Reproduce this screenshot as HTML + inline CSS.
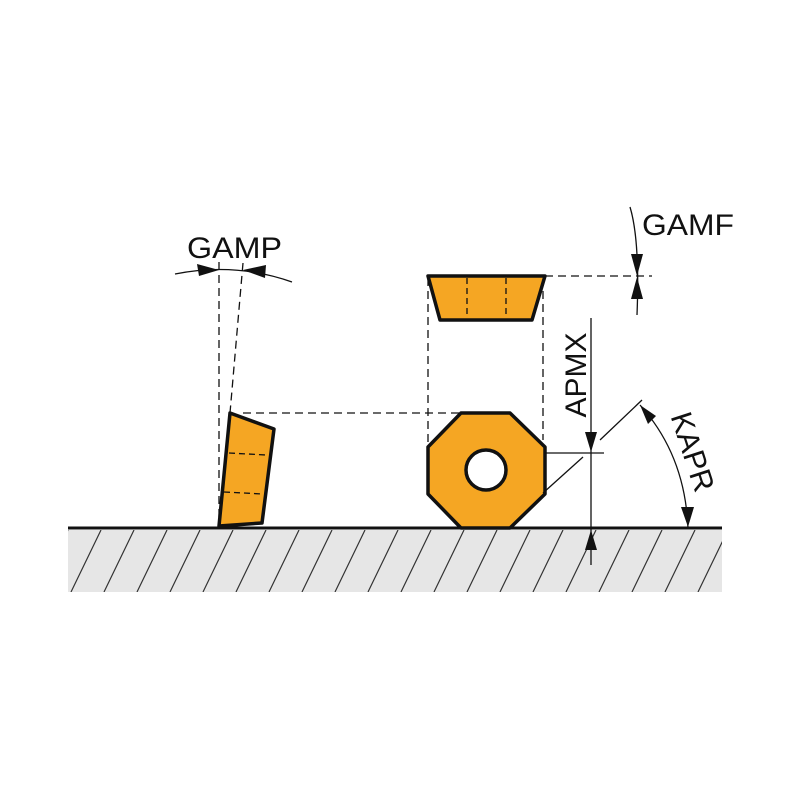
<!DOCTYPE html><html><head><style>body{margin:0;background:#fff}</style></head><body>
<svg width="800" height="800" xmlns="http://www.w3.org/2000/svg">
<defs>
<pattern id="h" patternUnits="userSpaceOnUse" width="33" height="62" x="68" y="530"><path d="M33 0 L3 62 M66 0 L36 62 M0 0 L-30 62" stroke="#333" stroke-width="1.2"/></pattern>
</defs>
<rect x="68" y="530" width="654" height="62" fill="#e6e6e6"/>
<rect x="68" y="530" width="654" height="62" fill="url(#h)"/>
<line x1="68" y1="528" x2="722" y2="528" stroke="#111" stroke-width="3"/>
<g fill="none" stroke="#111" stroke-width="1.3" stroke-dasharray="8,5">
<line x1="219" y1="262" x2="219" y2="524"/>
<line x1="243" y1="263" x2="230" y2="413"/>
<line x1="243" y1="413" x2="461" y2="413"/>
<line x1="428" y1="278" x2="428" y2="447"/>
<line x1="543" y1="278" x2="543" y2="440"/>
<line x1="545" y1="276" x2="652" y2="276"/>
</g>
<polygon points="230,413 274,429 262,523 219,526" fill="#f5a623" stroke="#111" stroke-width="3.5" stroke-linejoin="round"/>
<g stroke="#111" stroke-width="1.3" stroke-dasharray="6,4"><line x1="229" y1="453" x2="266" y2="455"/><line x1="224" y1="492" x2="263" y2="494"/></g>
<polygon points="428,276 545,276 532,320 440,320" fill="#f5a623" stroke="#111" stroke-width="3.5" stroke-linejoin="round"/>
<g stroke="#111" stroke-width="1.3" stroke-dasharray="6,4"><line x1="467" y1="278" x2="467" y2="318"/><line x1="506" y1="278" x2="506" y2="318"/></g>
<polygon points="461,413 510,413 545,447 545,494 510,528 461,528 428,494 428,447" fill="#f5a623" stroke="#111" stroke-width="3.5" stroke-linejoin="round"/>
<circle cx="486" cy="470" r="20" fill="#fff" stroke="#111" stroke-width="3.5"/>
<g stroke="#111" stroke-width="1.3" fill="none">
<line x1="591" y1="318" x2="591" y2="565"/>
<line x1="545" y1="453" x2="604" y2="453"/>
<line x1="600" y1="440" x2="642" y2="400"/>
<line x1="543" y1="493" x2="583" y2="457"/>
<path d="M640 405 Q685 455 688 528"/>
<path d="M630 207 Q640 240 637 315"/>
<path d="M175 274 Q235 262 292 282"/>
</g>
<g fill="#111">
<polygon points="591,452 585,432 597,432"/>
<polygon points="591,530 585,550 597,550"/>
<polygon points="640,405 656,416 648,424"/>
<polygon points="688,527 681,507 694,507"/>
<polygon points="637,276 631,254 643,254"/>
<polygon points="637,277 631,299 643,299"/>
<polygon points="219,270 197,264 199,276"/>
<polygon points="243,270 266,265 265,278"/>
</g>
<g font-family="Liberation Sans, sans-serif" font-size="30" fill="#111">
<text x="187" y="258" textLength="95" lengthAdjust="spacingAndGlyphs">GAMP</text>
<text x="642" y="235" textLength="92" lengthAdjust="spacingAndGlyphs">GAMF</text>
<text transform="translate(586,375) rotate(-90)" text-anchor="middle">APMX</text>
<text transform="translate(683,455) rotate(72)" text-anchor="middle">KAPR</text>
</g>
</svg>
</body></html>
